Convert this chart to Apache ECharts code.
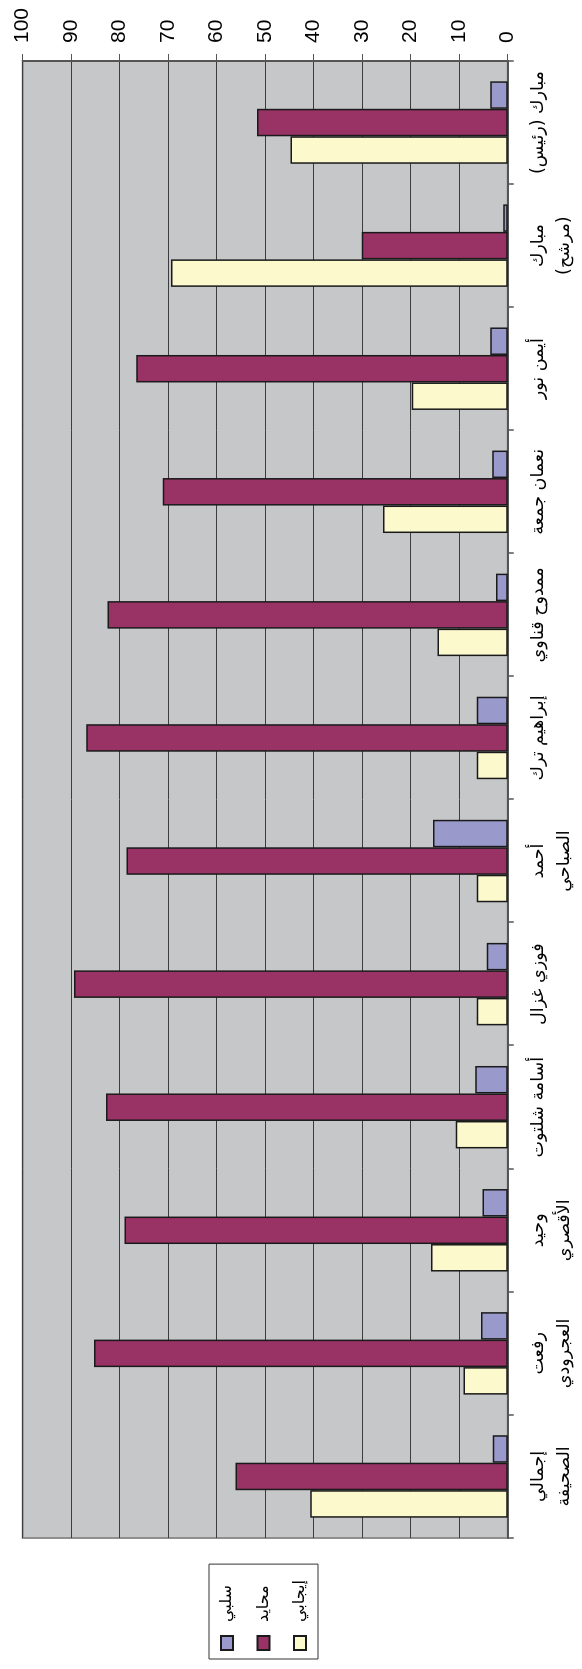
<!DOCTYPE html>
<html>
<head>
<meta charset="utf-8">
<script src="https://cdn.jsdelivr.net/npm/echarts@6/dist/echarts.min.js"></script>
<style>
html, body { margin:0; padding:0; width:582px; height:1669px; overflow:hidden; background:#fff; }
#chart { position:absolute; left:0; top:0; width:1669px; height:582px;
  transform-origin:0 0; transform:translate(0px,1669px) rotate(-90deg); }
</style>
</head>
<body>
<div id="chart"></div>
<script>
const categories = ['مبارك (رئيس)', 'مبارك\n(مرشح)', 'أيمن نور', 'نعمان جمعة', 'ممدوح قناوي', 'إبراهيم ترك',
  'أحمد\nالصباحي', 'فوزي غزال', 'أسامة شلتوت', 'وحيد\nالأقصري', 'رفعت\nالعجرودي', 'إجمالي\nالصحيفة'];
const seriesNames = ['سلبي', 'محايد', 'إيجابي'];
const negative = [3.6, 0.9, 3.6, 3.2, 2.4, 6.4, 15.4, 4.3, 6.7, 5.2, 5.5, 3.1];
const neutral  = [51.7, 30.1, 76.6, 71.1, 82.5, 86.9, 78.6, 89.4, 82.8, 79.0, 85.3, 56.1];
const positive = [44.8, 69.4, 19.8, 25.7, 14.5, 6.4, 6.4, 6.4, 10.7, 15.8, 9.1, 40.7];
const valueMin = 0, valueMax = 100, valueStep = 10;

const colors = { 'سلبي': '#9999cc', 'محايد': '#993366', 'إيجابي': '#fcf9cc' };
const dataByName = { 'سلبي': negative, 'محايد': neutral, 'إيجابي': positive };

const chart = echarts.init(document.getElementById('chart'), null, { renderer: 'canvas' });
// category axis is inverse (RTL), so series are listed in reverse to keep سلبي on the right of each group
const seriesOrder = seriesNames.slice().reverse();
chart.setOption({
  animation: false,
  backgroundColor: '#ffffff',
  grid: { left: 131, right: 61, top: 22.7, bottom: 74.3, show: true,
    backgroundColor: '#c6c7c9', borderColor: '#8e8e8e', borderWidth: 2 },
  legend: {
    data: seriesNames, orient: 'vertical', left: 10, top: 209,
    itemWidth: 14, itemHeight: 12, itemGap: 16.5, icon: 'rect',
    padding: [8, 16, 8, 8], borderColor: '#333', borderWidth: 1, backgroundColor: '#fff',
    selectedMode: false,
    textStyle: { fontFamily: 'DejaVu Sans', fontSize: 16, lineHeight: 20, color: '#000', padding: [0, 0, 0, 9] }
  },
  xAxis: {
    type: 'category', data: categories, inverse: true, position: 'bottom',
    axisLine: { show: true, lineStyle: { color: '#555', width: 2 } },
    axisTick: { show: true, length: 6, lineStyle: { color: '#555', width: 1.5 } },
    axisLabel: { interval: 0, margin: 18, fontFamily: 'DejaVu Sans', fontSize: 17.5, lineHeight: 26, color: '#000',
      formatter: v => v.split('\n').map(s => '\u200F' + s + '\u200F').join('\n') },
    splitLine: { show: false }
  },
  yAxis: {
    type: 'value', position: 'right', min: valueMin, max: valueMax, interval: valueStep,
    axisLine: { show: true, lineStyle: { color: '#555', width: 2 } },
    axisTick: { show: true, length: 7, lineStyle: { color: '#555', width: 1 } },
    axisLabel: { margin: 18, fontFamily: 'Liberation Sans', fontSize: 21, color: '#000' },
    splitLine: { show: true, lineStyle: { color: '#3c3c3c', width: 1 } }
  },
  series: seriesOrder.map(name => ({
    name: name, type: 'bar', data: dataByName[name],
    barGap: '0%', barCategoryGap: '33%',
    itemStyle: { color: colors[name], borderColor: '#1a1a1a', borderWidth: 1.5 }
  }))
});
</script>
</body>
</html>
